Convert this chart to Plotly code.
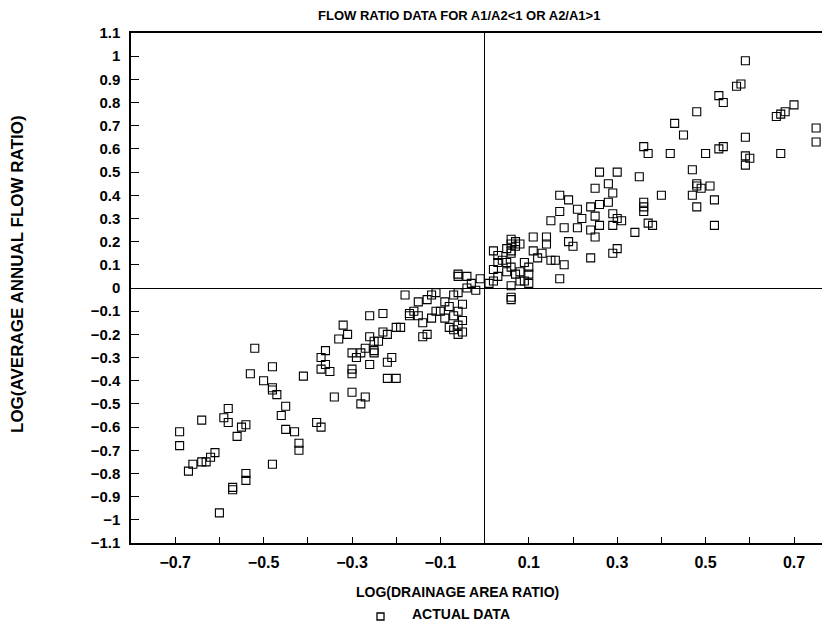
import plotly.graph_objects as go

# Data: log(drainage area ratio) vs log(average annual flow ratio)
log_area = [
    0.59, 0.53, 0.54, 0.57, 0.58, 0.70, 0.68, 0.67, 0.66, 0.48, 0.43, 0.45, 0.36, 0.37, 0.42,
    0.75, 0.75, 0.67, 0.59, 0.59, 0.59, 0.60, 0.54, 0.53, 0.50, 0.47, 0.48, 0.48, 0.49, 0.51,
    0.47, 0.48, 0.52, 0.52, 0.40, 0.35, 0.30, 0.26, 0.28, 0.25, 0.29, 0.36, 0.36, 0.36, 0.34,
    0.38, 0.37, 0.30, 0.31, 0.29, 0.29, 0.28, 0.26, 0.24, 0.25, 0.24, 0.25, 0.26, 0.30, 0.29,
    0.24, 0.21, 0.22, 0.21, 0.19, 0.17, 0.17, 0.18, 0.15, 0.14, 0.14, 0.19, 0.20, 0.18, 0.17,
    0.11, 0.11, 0.12, 0.13, 0.15, 0.16, 0.10, 0.09, 0.10, 0.07, 0.06, 0.08, 0.07, 0.05, 0.06,
    0.04, 0.05, 0.03, 0.03, 0.02, 0.05, 0.06, 0.07, 0.08, 0.08, 0.02, 0.03, 0.01, 0.02, 0.06,
    0.06, 0.06, 0.09, 0.10, 0.06, 0.06,
    -0.01, -0.03, -0.04, -0.06, -0.06, -0.02, -0.04, -0.06, -0.07, -0.05, -0.06, -0.08, -0.07,
    -0.05, -0.06, -0.07, -0.05, -0.06, -0.09, -0.10, -0.11, -0.12, -0.08, -0.09, -0.13, -0.12,
    -0.11, -0.15, -0.14, -0.16, -0.17, -0.13, -0.14, -0.15, -0.17, -0.18, -0.19, -0.20, -0.21,
    -0.22, -0.22, -0.20, -0.23, -0.22, -0.24, -0.23, -0.26, -0.25, -0.25, -0.26, -0.25, -0.26,
    -0.27, -0.28, -0.29, -0.30, -0.27, -0.28, -0.30, -0.30, -0.30, -0.32, -0.33, -0.31, -0.36,
    -0.36, -0.35, -0.37, -0.37, -0.34, -0.38, -0.37, -0.41, -0.42, -0.43, -0.42, -0.45, -0.45,
    -0.46, -0.47, -0.48, -0.48, -0.48, -0.48, -0.50, -0.53, -0.52, -0.54, -0.55, -0.54, -0.54,
    -0.56, -0.57, -0.57, -0.58, -0.58, -0.59, -0.60, -0.61, -0.62, -0.63, -0.64, -0.64, -0.66,
    -0.67, -0.69, -0.69,
]
log_flow = [
    0.98, 0.83, 0.80, 0.87, 0.88, 0.79, 0.76, 0.75, 0.74, 0.76, 0.71, 0.66, 0.61, 0.58, 0.58,
    0.69, 0.63, 0.58, 0.65, 0.57, 0.53, 0.56, 0.61, 0.60, 0.58, 0.51, 0.44, 0.45, 0.43, 0.44,
    0.40, 0.35, 0.38, 0.27, 0.40, 0.48, 0.50, 0.50, 0.45, 0.43, 0.41, 0.37, 0.35, 0.33, 0.24,
    0.27, 0.28, 0.30, 0.29, 0.27, 0.32, 0.37, 0.36, 0.35, 0.31, 0.25, 0.22, 0.27, 0.17, 0.15,
    0.13, 0.34, 0.30, 0.26, 0.38, 0.40, 0.33, 0.26, 0.29, 0.22, 0.19, 0.20, 0.18, 0.10, 0.04,
    0.22, 0.16, 0.13, 0.15, 0.12, 0.12, 0.09, 0.11, 0.02, 0.20, 0.21, 0.19, 0.18, 0.17, 0.16,
    0.12, 0.11, 0.14, 0.11, 0.16, 0.07, 0.09, 0.06, 0.07, 0.03, 0.08, 0.05, 0.02, 0.03, -0.04,
    -0.05, 0.01, 0.03, 0.06, 0.19, 0.15,
    0.04, 0.02, 0.05, 0.06, 0.05, -0.01, 0.00, -0.02, -0.03, -0.07, -0.10, -0.08, -0.12,
    -0.14, -0.16, -0.18, -0.19, -0.20, -0.06, -0.10, -0.10, -0.13, -0.17, -0.13, -0.05, -0.03,
    -0.02, -0.12, -0.15, -0.10, -0.11, -0.20, -0.21, -0.06, -0.12, -0.03, -0.17, -0.17, -0.30,
    -0.32, -0.39, -0.39, -0.11, -0.20, -0.23, -0.19, -0.21, -0.23, -0.27, -0.12, -0.28, -0.33,
    -0.26, -0.28, -0.30, -0.28, -0.47, -0.50, -0.45, -0.35, -0.37, -0.16, -0.22, -0.20, -0.27,
    -0.33, -0.36, -0.35, -0.30, -0.47, -0.58, -0.60, -0.38, -0.67, -0.62, -0.70, -0.51, -0.61,
    -0.55, -0.46, -0.43, -0.44, -0.34, -0.76, -0.40, -0.37, -0.26, -0.59, -0.60, -0.80, -0.83,
    -0.64, -0.86, -0.87, -0.52, -0.58, -0.56, -0.97, -0.71, -0.73, -0.75, -0.57, -0.75, -0.76,
    -0.79, -0.62, -0.68,
]

x_tick_vals = [-0.7, -0.6, -0.5, -0.4, -0.3, -0.2, -0.1, 0.0, 0.1, 0.2, 0.3, 0.4, 0.5, 0.6, 0.7]
x_tick_text = ["−0.7", "", "−0.5", "", "−0.3", "", "−0.1", "", "0.1", "", "0.3", "", "0.5", "", "0.7"]
y_tick_vals = [1.1, 1.0, 0.9, 0.8, 0.7, 0.6, 0.5, 0.4, 0.3, 0.2, 0.1, 0.0,
               -0.1, -0.2, -0.3, -0.4, -0.5, -0.6, -0.7, -0.8, -0.9, -1.0, -1.1]
y_tick_text = ["1.1", "1", "0.9", "0.8", "0.7", "0.6", "0.5", "0.4", "0.3", "0.2", "0.1", "0",
               "−0.1", "−0.2", "−0.3", "−0.4", "−0.5", "−0.6", "−0.7", "−0.8", "−0.9", "−1", "−1.1"]

FONT = "Liberation Sans, Arial, sans-serif"

# The page body has an 8 px margin, so the figure is drawn 8 px smaller
# and every screen position below is shifted by that offset.
OFF = 8
W, H = 830 - OFF, 628 - OFF
L, R, T, B = 131 - OFF, 0, 33 - OFF, H - (543 - OFF)
PX_PER_UNIT = 442.0

def px(screen_x):
    return (screen_x - OFF - L) / (W - L - R)

def py(screen_y):
    return 1 - (screen_y - OFF - T) / (H - T - B)

fig = go.Figure()
fig.add_trace(go.Scatter(
    x=log_area, y=log_flow, mode="markers",
    marker=dict(symbol="square-open", size=8, color="black", line=dict(width=1.1, color="black")),
    showlegend=False, hoverinfo="x+y",
))

fig.update_layout(
    width=W, height=H,
    margin=dict(l=L, r=R, t=T, b=B, pad=0),
    paper_bgcolor="white", plot_bgcolor="white",
    font=dict(family=FONT, color="black", size=14, weight="bold"),
    xaxis=dict(
        range=[-0.8, -0.8 + (W - L - R) / PX_PER_UNIT],
        tickvals=x_tick_vals, ticktext=x_tick_text,
        ticks="inside", ticklen=6, tickwidth=1.2, tickcolor="black",
        showline=True, linecolor="black", linewidth=1.5, mirror=True,
        showgrid=False, zeroline=True, zerolinecolor="black", zerolinewidth=1.2,
        tickfont=dict(family=FONT, size=16, weight="bold"),
        ticklabelstandoff=4,
    ),
    yaxis=dict(
        range=[-1.1, 1.1],
        tickvals=y_tick_vals, ticktext=y_tick_text,
        ticks="inside", ticklen=8, tickwidth=1.2, tickcolor="black",
        showline=True, linecolor="black", linewidth=1.5, mirror=False,
        showgrid=False, zeroline=True, zerolinecolor="black", zerolinewidth=1.2,
        tickfont=dict(family=FONT, size=15, weight="bold"),
        ticklabelstandoff=6,
    ),
    annotations=[
        dict(text="FLOW RATIO DATA FOR A1/A2&lt;1 OR A2/A1&gt;1", xref="paper", yref="paper",
             x=px(459), y=py(16), xanchor="center", yanchor="middle", showarrow=False,
             font=dict(family=FONT, size=13, weight="bold")),
        dict(text="LOG(DRAINAGE AREA RATIO)", xref="paper", yref="paper",
             x=px(457), y=py(592), xanchor="center", yanchor="middle", showarrow=False,
             font=dict(family=FONT, size=14, weight="bold")),
        dict(text="LOG(AVERAGE ANNUAL FLOW RATIO)", xref="paper", yref="paper",
             x=px(17), y=py(274), xanchor="center", yanchor="middle", showarrow=False,
             textangle=-90, font=dict(family=FONT, size=17, weight="bold")),
        dict(text="ACTUAL DATA", xref="paper", yref="paper",
             x=px(410), y=py(614), xanchor="left", yanchor="middle", showarrow=False,
             font=dict(family=FONT, size=14, weight="bold")),
    ],
    shapes=[
        dict(type="rect", xref="paper", yref="paper",
             x0=px(377), x1=px(384), y0=py(613), y1=py(620),
             line=dict(color="black", width=1.3), fillcolor="rgba(0,0,0,0)"),
    ],
)

fig.write_html("out.html")
